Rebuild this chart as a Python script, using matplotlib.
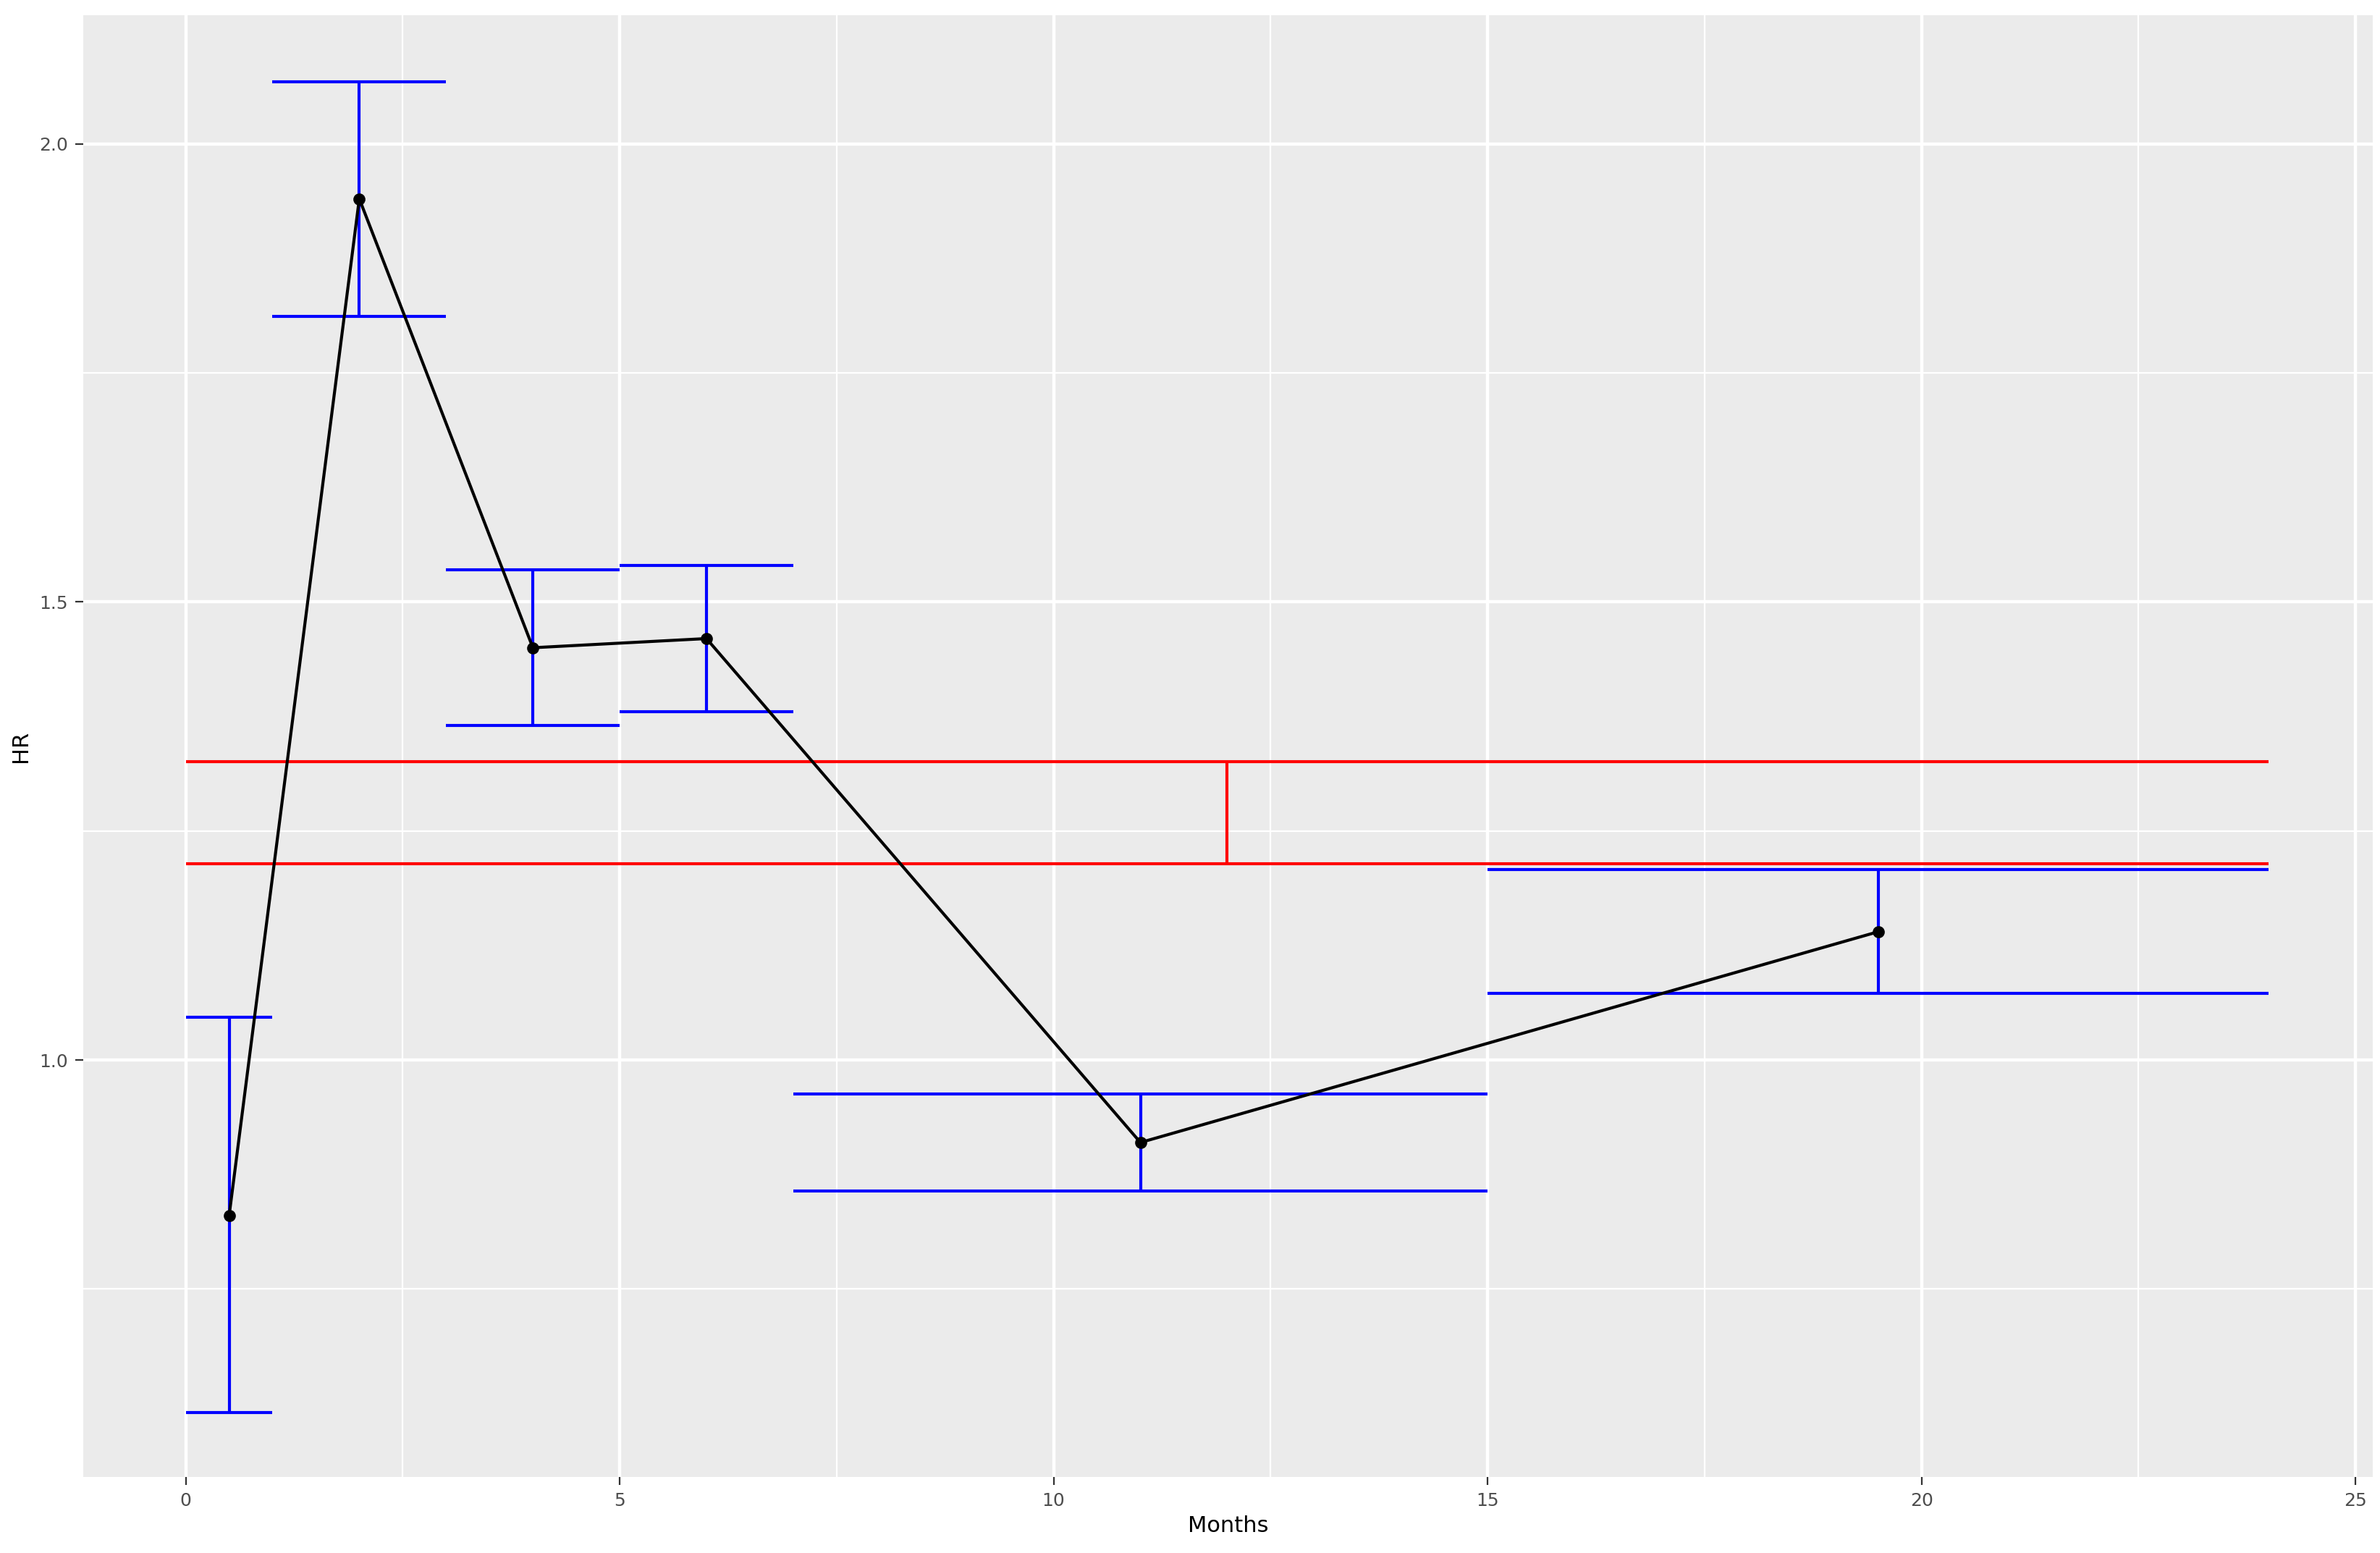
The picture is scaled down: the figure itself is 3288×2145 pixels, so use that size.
import matplotlib.pyplot as plt
import numpy as np

# ================= Data =================
months = [0.5, 2, 4, 6, 11, 19.5]
hr = [0.830, 1.940, 1.450, 1.460, 0.910, 1.140]
hr_lower = [0.615, 1.812, 1.365, 1.380, 0.857, 1.073]
hr_upper = [1.047, 2.068, 1.535, 1.540, 0.963, 1.208]
bin_start = [0, 1, 3, 5, 7, 15]
bin_end = [1, 3, 5, 7, 15, 24]

overall_x = 12
overall_start, overall_end = 0, 24
overall_lower = 1.214
overall_upper = 1.326
# ========================================

fig = plt.figure(figsize=(16.44, 10.725), dpi=200)
ax = fig.add_axes([0.035, 0.049, 0.962, 0.941])
ax.set_facecolor('#EBEBEB')
for s in ax.spines.values():
    s.set_visible(False)

ax.set_xlim(-1.18, 25.2)
ax.set_ylim(0.545, 2.14)
ax.set_xticks([0, 5, 10, 15, 20, 25])
ax.set_yticks([1.0, 1.5, 2.0])
ax.set_yticklabels(['1.0', '1.5', '2.0'])
ax.set_xticks(np.arange(2.5, 25, 5), minor=True)
ax.set_yticks([0.75, 1.25, 1.75], minor=True)
ax.grid(which='major', color='white', linewidth=1.6)
ax.grid(which='minor', color='white', linewidth=0.8)
ax.set_axisbelow(True)
ax.tick_params(which='major', colors='#333333', labelcolor='#4D4D4D', labelsize=9, length=4)
ax.tick_params(which='minor', length=0)

# overall HR interval (red)
ax.hlines([overall_lower, overall_upper], overall_start, overall_end, color='red', linewidth=1.5)
ax.vlines(overall_x, overall_lower, overall_upper, color='red', linewidth=1.5)

# per-interval CIs (blue)
ax.hlines(hr_lower, bin_start, bin_end, color='blue', linewidth=1.5)
ax.hlines(hr_upper, bin_start, bin_end, color='blue', linewidth=1.5)
ax.vlines(months, hr_lower, hr_upper, color='blue', linewidth=1.5)

ax.plot(months, hr, color='black', linewidth=1.5, zorder=3)
ax.scatter(months, hr, color='black', s=25, zorder=4)

ax.set_xlabel('Months', fontsize=11, labelpad=3)
ax.set_ylabel('HR', fontsize=11, labelpad=4)

fig.savefig('out.png', dpi=200)
